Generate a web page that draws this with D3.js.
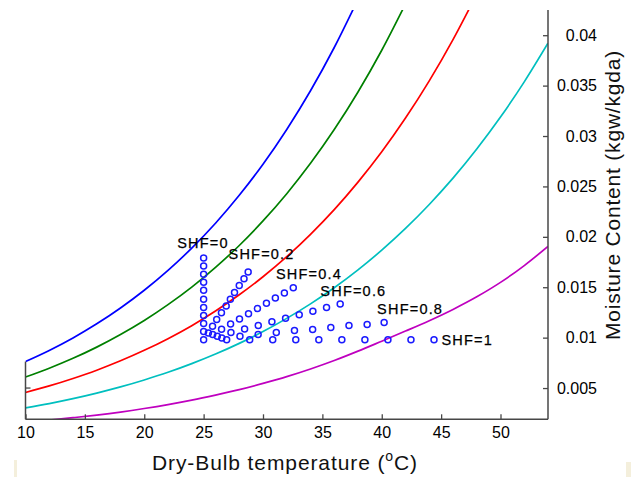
<!DOCTYPE html>
<html>
<head>
<meta charset="utf-8">
<script src="https://cdn.jsdelivr.net/npm/d3@7"></script>
<style>
body { margin: 0; background: #fff; }
svg { display: block; font-family: "Liberation Sans", Arial, sans-serif; }
</style>
</head>
<body>
<svg width="637" height="477"></svg>
<script>
// dry-bulb temperature grid of the humidity curves (degC)
const curveTemps = [10, 12, 14, 16, 18, 20, 22, 24, 26, 28, 30, 32, 34, 36, 38, 40, 42, 44, 46, 48, 50, 52, 54];
// moisture content (kgw/kgda)
const blueW = [0.00763, 0.00873, 0.00997, 0.01137, 0.01294, 0.01470, 0.01667, 0.01888, 0.02135, 0.02412, 0.02720, 0.03065, 0.03449, 0.03878, 0.04356];
const greenW = [0.00609, 0.00697, 0.00795, 0.00906, 0.01031, 0.01170, 0.01327, 0.01501, 0.01697, 0.01914, 0.02158, 0.02428, 0.02729, 0.03064, 0.03437, 0.03851, 0.04310];
const redW = [0.00456, 0.00521, 0.00595, 0.00677, 0.00770, 0.00874, 0.00990, 0.01119, 0.01264, 0.01425, 0.01604, 0.01803, 0.02025, 0.02270, 0.02543, 0.02844, 0.03178, 0.03547, 0.03956, 0.04408];
const cyanW = [0.00303, 0.00346, 0.00395, 0.00450, 0.00511, 0.00580, 0.00656, 0.00742, 0.00837, 0.00943, 0.01060, 0.01191, 0.01335, 0.01495, 0.01672, 0.01868, 0.02083, 0.02321, 0.02582, 0.02871, 0.03188, 0.03537, 0.03921];
const magentaW = [0.00160, 0.00182, 0.00206, 0.00232, 0.00262, 0.00297, 0.00336, 0.00380, 0.00430, 0.00484, 0.00546, 0.00613, 0.00689, 0.00773, 0.00866, 0.00965, 0.01065, 0.01168, 0.01280, 0.01405, 0.01548, 0.01715, 0.01905];

// process points [temp, moisture] for each sensible heat factor
const shf0 = [[25, 0.0098], [25, 0.0106], [25, 0.0114], [25, 0.0122], [25, 0.0130], [25, 0.0138], [25, 0.0147], [25, 0.0155], [25, 0.0163], [25, 0.0171], [25, 0.0179]];
const shf02 = [[25.4, 0.01047], [25.75, 0.01114], [26.1, 0.01181], [26.5, 0.01248], [26.9, 0.01315], [27.25, 0.01382], [27.6, 0.01449], [28.0, 0.01516], [28.4, 0.01583], [28.75, 0.0165]];
const shf04 = [[25.76, 0.01032], [26.51, 0.01083], [27.27, 0.01135], [28.02, 0.01186], [28.78, 0.01238], [29.53, 0.01289], [30.29, 0.01341], [31.04, 0.01392], [31.8, 0.01444], [32.55, 0.01495]];
const shf06 = [[26.15, 0.01015], [27.3, 0.0105], [28.45, 0.01086], [29.6, 0.01121], [30.75, 0.01157], [31.9, 0.01192], [33.05, 0.01227], [34.2, 0.01262], [35.35, 0.01298], [36.5, 0.01333]];
const shf08 = [[26.53, 0.00997], [28.06, 0.01014], [29.59, 0.0103], [31.12, 0.0105], [32.65, 0.0107], [34.18, 0.0108], [35.71, 0.011], [37.24, 0.0112], [38.77, 0.0113], [40.2, 0.0115]];
const shf1 = [[26.94, 0.0098], [28.88, 0.0098], [30.82, 0.0098], [32.76, 0.0098], [34.7, 0.0098], [36.64, 0.0098], [38.58, 0.0098], [40.52, 0.0098], [42.46, 0.0098], [44.4, 0.0098]];

// label text and where it sits (data coords)
const shfLabels = ["SHF=0", "SHF=0.2", "SHF=0.4", "SHF=0.6", "SHF=0.8", "SHF=1"];
const shfLabelT = [22.77, 27.1, 31.09, 34.83, 39.61, 45.03];
const shfLabelW = [0.01887, 0.01778, 0.01579, 0.01414, 0.01232, 0.00928];

const xTicks = [10, 15, 20, 25, 30, 35, 40, 45, 50];
const yTicks = [0.005, 0.01, 0.015, 0.02, 0.025, 0.03, 0.035, 0.04];

const svg = d3.select("svg");
const plotLeft = 25.5, plotRight = 548, plotTop = 10, plotBottom = 419.3;
const axisColor = "#474747";

const x = d3.scaleLinear().domain([10, 54]).range([plotLeft, plotRight]);
const y = d3.scaleLinear().domain([0.0019, 0.0425]).range([plotBottom, plotTop]);

svg.append("clipPath").attr("id", "plotclip")
    .append("rect")
    .attr("x", plotLeft).attr("y", plotTop)
    .attr("width", plotRight - plotLeft).attr("height", plotBottom - plotTop);

// humidity curves
const curves = [
    { w: blueW, color: "#0000ff" },
    { w: greenW, color: "#008000" },
    { w: redW, color: "#ff0000" },
    { w: cyanW, color: "#00bfbf" },
    { w: magentaW, color: "#bf00bf" }
];
const line = d3.line()
    .x(d => x(d[0]))
    .y(d => y(d[1]))
    .curve(d3.curveMonotoneX);

const curveG = svg.append("g").attr("clip-path", "url(#plotclip)");
curves.forEach(c => {
    const pts = c.w.map((v, i) => [curveTemps[i], v]);
    curveG.append("path")
        .attr("d", line(pts))
        .attr("fill", "none")
        .attr("stroke", c.color)
        .attr("stroke-width", 1.7);
});

// process points
const allPts = [].concat(shf0, shf02, shf04, shf06, shf08, shf1);
svg.append("g").selectAll("circle").data(allPts)
    .enter().append("circle")
    .attr("cx", d => x(d[0]))
    .attr("cy", d => y(d[1]))
    .attr("r", 3)
    .attr("fill", "none")
    .attr("stroke", "#1a1aff")
    .attr("stroke-width", 1.5);

svg.append("g").selectAll("text").data(shfLabels)
    .enter().append("text")
    .attr("x", (d, i) => x(shfLabelT[i]))
    .attr("y", (d, i) => y(shfLabelW[i]))
    .attr("font-size", 14.5)
    .attr("letter-spacing", 1.2)
    .attr("fill", "#000")
    .attr("stroke", "#000")
    .attr("stroke-width", 0.25)
    .text(d => d);

// bottom axis
const xAxis = d3.axisBottom(x).tickValues(xTicks).tickSizeInner(-5).tickSizeOuter(0).tickPadding(7);
const gx = svg.append("g").attr("transform", `translate(0,${plotBottom})`).call(xAxis);
gx.select(".domain").remove();
gx.selectAll("line").attr("stroke", axisColor).attr("stroke-width", 1.3);
gx.selectAll("text").attr("font-size", 16).attr("fill", "#000");

// right axis
const yAxis = d3.axisRight(y).tickValues(yTicks).tickSizeInner(-5).tickSizeOuter(0).tickFormat(d => String(d));
const gy = svg.append("g").attr("transform", `translate(${plotRight},0)`).call(yAxis);
gy.select(".domain").remove();
gy.selectAll("line").attr("stroke", axisColor).attr("stroke-width", 1.3);
gy.selectAll("text").attr("font-size", 16).attr("fill", "#000")
    .attr("text-anchor", "end").attr("x", 49);

// frame lines: bottom, right, and the visible part of the left side
svg.append("line").attr("x1", plotLeft).attr("x2", plotRight).attr("y1", plotBottom).attr("y2", plotBottom)
    .attr("stroke", axisColor).attr("stroke-width", 1.5);
svg.append("line").attr("x1", plotRight).attr("x2", plotRight).attr("y1", plotTop).attr("y2", plotBottom)
    .attr("stroke", axisColor).attr("stroke-width", 1.5);
svg.append("line").attr("x1", plotLeft).attr("x2", plotLeft).attr("y1", y(blueW[0])).attr("y2", plotBottom)
    .attr("stroke", axisColor).attr("stroke-width", 1.5);
svg.append("line").attr("x1", plotLeft).attr("x2", plotLeft + 5).attr("y1", y(0.005)).attr("y2", y(0.005))
    .attr("stroke", axisColor).attr("stroke-width", 1.3);

// axis titles
const xt = svg.append("text")
    .attr("x", 285).attr("y", 470)
    .attr("text-anchor", "middle")
    .attr("font-size", 21)
    .attr("letter-spacing", 0.9)
    .attr("fill", "#111");
xt.append("tspan").text("Dry-Bulb temperature (");
xt.append("tspan").attr("font-size", 14).attr("dy", -9).text("o");
xt.append("tspan").attr("dy", 9).text("C)");

svg.append("text")
    .attr("transform", "translate(620,195) rotate(-90)")
    .attr("text-anchor", "middle")
    .attr("font-size", 21)
    .attr("letter-spacing", 0.8)
    .attr("fill", "#111")
    .text("Moisture Content (kgw/kgda)");

// scan specks at the bottom corners
svg.append("rect").attr("x", 14).attr("y", 460).attr("width", 3).attr("height", 17).attr("fill", "#f4efdc");
svg.append("rect").attr("x", 626).attr("y", 462).attr("width", 5).attr("height", 15).attr("fill", "#f4efdc");
</script>
</body>
</html>
